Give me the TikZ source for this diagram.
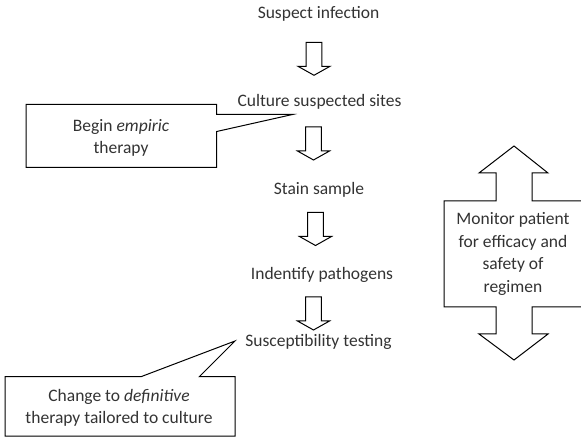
\documentclass[tikz,border=0pt]{standalone}
\usepackage{fontspec}
\setmainfont{Carlito}
\usetikzlibrary{calc}

\tikzset{
  outline/.style={draw=black, line width=1pt, line join=miter, fill=white},
  label/.style={text=black!80, font=\fontsize{17.5}{22.5}\selectfont, inner sep=0pt, align=center},
  pics/blockdown/.style={
    code={
      \draw[outline] (-7.8,0) -- (7.8,0) -- (7.8,24) -- (16,24) -- (0,33)
        -- (-16,24) -- (-7.8,24) -- cycle;
    }
  }
}

\begin{document}
\begin{tikzpicture}[x=1pt,y=-1pt]
  \useasboundingbox (0,0) rectangle (581,438);
  \clip (0,0) rectangle (581,438);

  % steps of the work-up
  \node[label, anchor=base] (suspect) at (318.5,18.5) {Suspect infection};
  \node[label, anchor=base] (culture) at (319.5,106.5) {Culture suspected sites};
  \node[label, anchor=base] (stain)   at (319,195)   {Stain sample};
  \node[label, anchor=base] (ident)   at (322,280)   {Indentify pathogens};
  \node[label, anchor=base] (suscep)  at (318.5,346) {Susceptibility testing};

  % block arrows between the steps
  \pic at (314,42.3)  {blockdown};
  \pic at (313.5,127) {blockdown};
  \pic at (315.5,212.5) {blockdown};
  \pic at (313.5,297) {blockdown};

  % callout: empiric therapy
  \coordinate (tipA) at (292.5,114.5);
  \draw[outline] (26,104.3) -- (216.7,104.3) -- (216.7,114.5) -- (tipA)
    -- (216.7,131.5) -- (216.7,167.3) -- (26,167.3) -- cycle;
  \node[label] (empiric) at (121,138) {Begin \textit{empiric}\\therapy};

  % callout: definitive therapy
  \coordinate (tipB) at (235,341);
  \draw[outline] (5,376.7) -- (141,376.7) -- (tipB) -- (199.3,376.7)
    -- (235,376.7) -- (235,436) -- (5,436) -- cycle;
  \node[label] (definitive) at (119,408) {Change to \textit{definitive}\\therapy tailored to culture};

  % two-headed monitoring arrow
  \draw[outline] (514,146) -- (548,173) -- (532,173) -- (532,201) -- (584,201)
    -- (584,307) -- (532,307) -- (532,334) -- (548,334) -- (514,360)
    -- (479,334) -- (496,334) -- (496,307) -- (444,307) -- (444,201)
    -- (496,201) -- (496,173) -- (479,173) -- cycle;
  \node[label] (monitor) at (513,254)
    {Monitor patient\\for efficacy and\\safety of\\regimen};
\end{tikzpicture}
\end{document}
